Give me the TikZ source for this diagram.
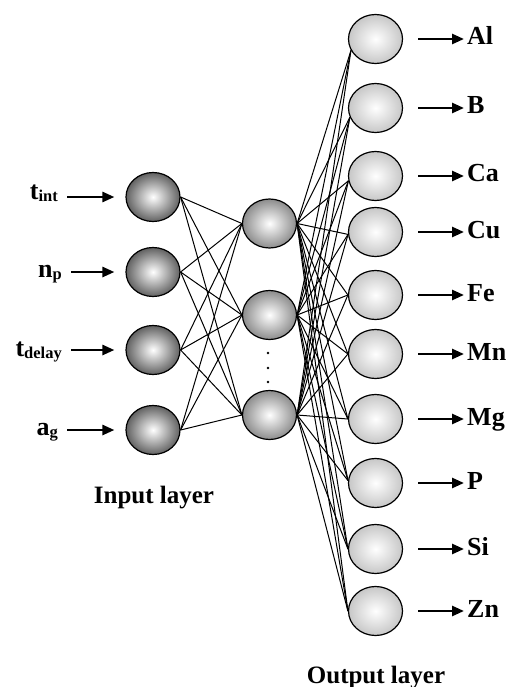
\documentclass[tikz,border=0pt]{standalone}
\usepackage{fontspec}
\setmainfont{Liberation Serif}
\usetikzlibrary{shapes.geometric,arrows.meta}
\newcommand\mysub[1]{\raisebox{-2pt}{\fontsize{16.5}{18}\selectfont #1}}
\begin{document}
\begin{tikzpicture}[x=1pt,y=-1pt,
  neuron/.style={ellipse, draw=black, line width=1.2pt, minimum width=54pt, minimum height=49pt, inner sep=0pt},
  inneuron/.style={neuron, inner color=white, outer color=black!62},
  hidneuron/.style={neuron, inner color=white, outer color=black!45},
  outneuron/.style={neuron, inner color=white, outer color=black!22},
  lab/.style={font=\fontsize{26}{30}\selectfont\bfseries, inner sep=0pt},
  title/.style={font=\fontsize{25}{30}\selectfont\bfseries, inner sep=0pt},
  arr/.style={line width=2.6pt, -{Triangle[length=12pt,width=10pt]}},
  link/.style={line width=1pt},
  dotmark/.style={circle, fill=black, inner sep=0pt, minimum size=2.8pt},
]
\useasboundingbox (0,0) rectangle (506,687);

% input layer
\node[inneuron] (i1) at (153,197) {};
\node[inneuron] (i2) at (153,272) {};
\node[inneuron] (i3) at (153,350) {};
\node[inneuron] (i4) at (153,430) {};

% hidden layer
\node[hidneuron] (h1) at (269.5,223.5) {};
\node[hidneuron] (h2) at (269.5,315) {};
\node[hidneuron] (h3) at (269.5,415) {};
\node[dotmark] (d1) at (268,353) {};
\node[dotmark] (d2) at (268,368) {};
\node[dotmark] (d3) at (268,382) {};

% output layer
\foreach \n/\y in {1/39,2/108,3/176,4/232,5/295,6/354,7/419,8/483,9/549,10/611}
  \node[outneuron] (o\n) at (375.5,\y) {};

% links
\foreach \i in {1,...,4}
  \foreach \h in {1,2,3}
    \draw[link] (i\i.east) -- (h\h.west);
\foreach \h in {1,2,3}
  \foreach \o/\a in {1/205,2/200,3/190,4/185,5/180,6/180,7/180,8/175,9/180,10/180}
    \draw[link] (h\h.east) -- (o\o.\a);

% input labels
\node[lab, anchor=base east] (l1) at (58,199) {t\mysub{int}};
\node[lab, anchor=base east] (l2) at (62,277) {n\mysub{p}};
\node[lab, anchor=base east] (l3) at (62,356) {t\mysub{delay}};
\node[lab, anchor=base east] (l4) at (58,435) {a\mysub{g}};
\foreach \n in {1,...,4}
  \draw[arr, shorten <=9pt, shorten >=11pt] (l\n.east |- i\n.west) -- (i\n.west);

% output labels
\foreach \n/\t/\y in {1/Al/45,2/B/114,3/Ca/182,4/Cu/238,5/Fe/301,6/Mn/360,7/Mg/425,8/P/489,9/Si/555,10/Zn/617}
  \node[lab, anchor=base west] (r\n) at (467,\y) {\t};
\foreach \n in {1,...,10}
  \draw[arr, shorten <=15pt, shorten >=3pt] (o\n.east) -- (r\n.west |- o\n.east);

% layer titles
\node[title, anchor=base] (inlab) at (154,503) {Input layer};
\node[title, anchor=base] (outlab) at (376,683) {Output layer};
\end{tikzpicture}
\end{document}
